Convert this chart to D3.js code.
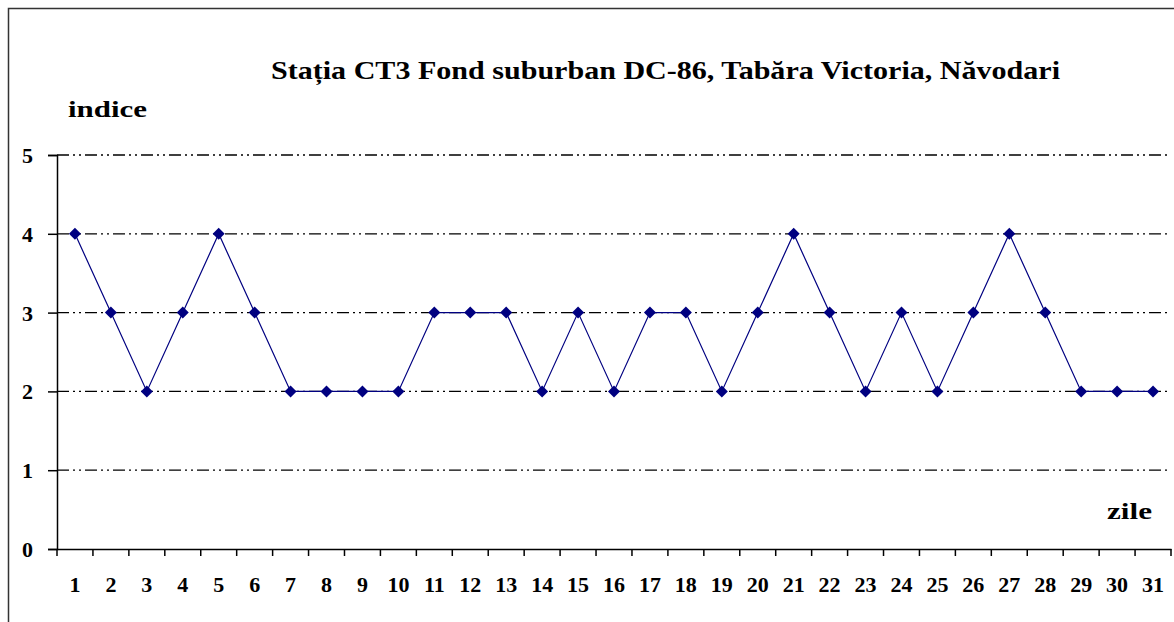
<!DOCTYPE html>
<html><head><meta charset="utf-8">
<script src="https://cdn.jsdelivr.net/npm/d3@7"></script>
<style>body{margin:0;background:#fff}svg{display:block}</style>
</head><body>
<script>
const days = d3.range(1, 32).map(String);
const values = [4,3,2,3,4,3,2,2,2,2,3,3,3,2,3,2,3,3,2,3,4,3,2,3,2,3,4,3,2,2,2];
const yTicks = [0,1,2,3,4,5];
const titleText = "Stația CT3 Fond suburban DC-86, Tabăra Victoria, Năvodari";
const yLabel = "indice";
const xLabel = "zile";

const FONT = "'Liberation Serif', 'Times New Roman', 'DejaVu Serif', serif";
const W = 1174, H = 622;
const svg = d3.select("body").append("svg").attr("width", W).attr("height", H)
  .attr("font-family", FONT).attr("font-weight", "bold");
svg.append("rect").attr("x", 8.5).attr("y", 8.5).attr("width", W + 20).attr("height", H + 20)
  .attr("fill", "none").attr("stroke", "#333").attr("stroke-width", 1.5);

const x0 = 57, x1 = 1171, yTop = 155, yBot = 549;
const x = d3.scaleBand().domain(days).range([x0, x1]);
const y = d3.scaleLinear().domain([0, 5]).range([yBot, yTop]);

// gridlines
svg.append("g").selectAll("line").data(yTicks.filter(d => d > 0)).join("line")
  .attr("x1", x0).attr("x2", x1).attr("y1", d => y(d)).attr("y2", d => y(d))
  .attr("stroke", "#000").attr("stroke-width", 1.3).attr("stroke-dasharray", "12,4,2,4,2,4");

// y axis
const yAxis = svg.append("g").attr("transform", `translate(${x0},0)`)
  .call(d3.axisLeft(y).tickValues(yTicks).tickSize(9).tickPadding(15).tickFormat(d3.format("d")));
yAxis.attr("font-family", FONT).attr("font-size", 22);
yAxis.select(".domain").attr("stroke", "#000").attr("stroke-width", 1.5);
yAxis.selectAll(".tick line").attr("stroke", "#000").attr("stroke-width", 1.5);
yAxis.selectAll("text").attr("fill", "#000").attr("dy", "0.34em");

// x axis with ticks at boundaries
const xAxis = svg.append("g").attr("transform", `translate(0,${yBot})`)
  .call(d3.axisBottom(x).tickSize(0).tickPadding(27));
xAxis.attr("font-family", FONT).attr("font-size", 22);
xAxis.select(".domain").attr("stroke", "#000").attr("stroke-width", 1.5);
xAxis.selectAll("text").attr("fill", "#000");
const bounds = days.map(d => x(d)).concat([x1]);
svg.append("g").selectAll("line").data(bounds).join("line")
  .attr("x1", d => d).attr("x2", d => d).attr("y1", yBot).attr("y2", yBot + 7)
  .attr("stroke", "#000").attr("stroke-width", 1.5);

// line
const cx = d => x(d) + x.bandwidth() / 2;
svg.append("path").datum(values.map((v, i) => [cx(days[i]), y(v)]))
  .attr("d", d3.line()).attr("fill", "none").attr("stroke", "#000080").attr("stroke-width", 1.2);
svg.append("g").selectAll("path").data(values).join("path")
  .attr("d", d3.symbol(d3.symbolSquare, 72))
  .attr("transform", (v, i) => `translate(${cx(days[i])},${y(v)}) rotate(45)`)
  .attr("fill", "#000080");

svg.append("text").attr("x", 271).attr("y", 79).attr("textLength", 789).attr("lengthAdjust", "spacingAndGlyphs")
  .attr("font-size", 25).text(titleText);
svg.append("text").attr("x", 68).attr("y", 117).attr("textLength", 79).attr("lengthAdjust", "spacingAndGlyphs")
  .attr("font-size", 24).text(yLabel);
svg.append("text").attr("x", 1107).attr("y", 519).attr("textLength", 45).attr("lengthAdjust", "spacingAndGlyphs")
  .attr("font-size", 24).text(xLabel);
</script>
</body></html>
